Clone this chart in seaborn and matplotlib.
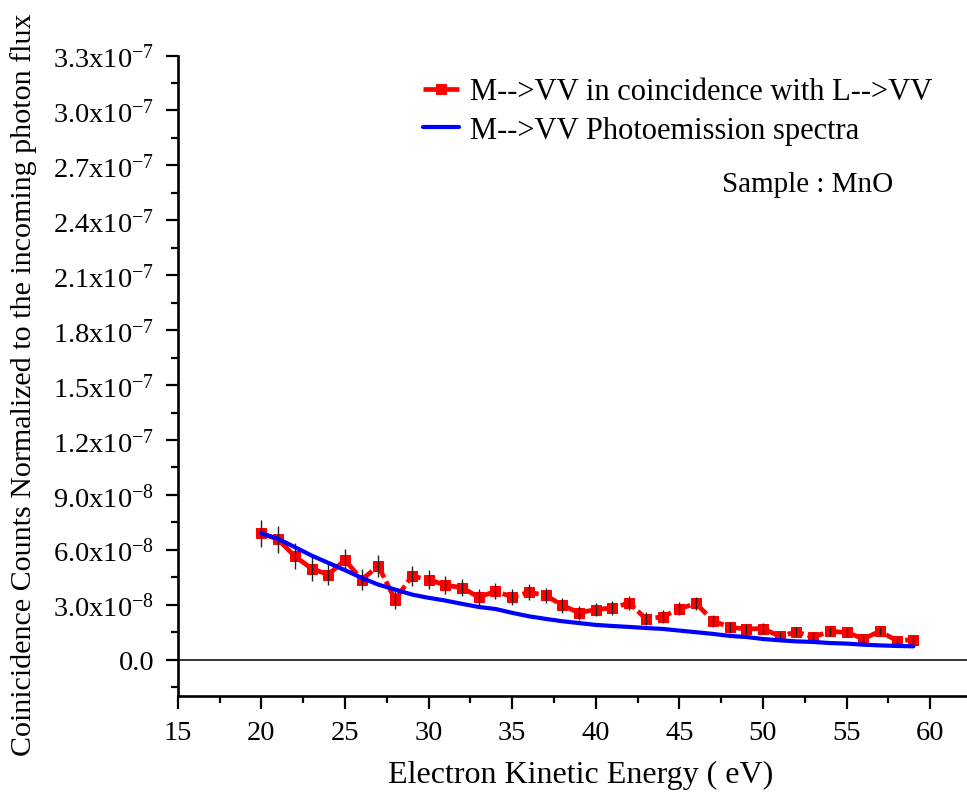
import numpy as np
import pandas as pd
import matplotlib
matplotlib.use("Agg")
import matplotlib.pyplot as plt
from matplotlib.ticker import MultipleLocator, FuncFormatter
import seaborn as sns

sns.set_style("ticks", {'axes.edgecolor': 'black', 'text.color': 'black',
                        'xtick.color': 'black', 'ytick.color': 'black',
                        'axes.labelcolor': 'black'})
plt.rcParams['font.family'] = ['Liberation Serif', 'DejaVu Serif']
plt.rcParams['mathtext.fontset'] = 'custom'
plt.rcParams['mathtext.rm'] = 'Liberation Serif'
plt.rcParams['mathtext.default'] = 'regular'

# Coincidence spectrum (M-->VV in coincidence with L-->VV), units of 1e-8
energy = np.arange(20, 60)
coinc = [6.90, 6.57, 5.65, 4.98, 4.65, 5.44, 4.38, 5.11, 3.28, 4.56,
         4.38, 4.07, 3.94, 3.41, 3.74, 3.43, 3.68, 3.52, 2.97, 2.56,
         2.74, 2.83, 3.10, 2.23, 2.34, 2.78, 3.07, 2.13, 1.77, 1.68,
         1.70, 1.28, 1.52, 1.24, 1.55, 1.49, 1.15, 1.55, 1.04, 1.09]
coinc_err = [0.75, 0.75, 0.70, 0.67, 0.57, 0.60, 0.55, 0.60, 0.53, 0.55,
             0.50, 0.48, 0.46, 0.45, 0.45, 0.43, 0.43, 0.42, 0.40, 0.38,
             0.38, 0.37, 0.37, 0.35, 0.35, 0.35, 0.35, 0.32, 0.30, 0.28,
             0.28, 0.25, 0.25, 0.25, 0.25, 0.25, 0.22, 0.22, 0.20, 0.20]
# Photoemission spectrum (M-->VV), units of 1e-8
photo = [6.90, 6.60, 6.15, 5.69, 5.29, 4.89, 4.47, 4.10, 3.83, 3.56,
         3.38, 3.23, 3.05, 2.88, 2.77, 2.56, 2.37, 2.23, 2.10, 2.00,
         1.90, 1.84, 1.79, 1.73, 1.68, 1.59, 1.50, 1.41, 1.30, 1.24,
         1.13, 1.06, 1.00, 0.97, 0.91, 0.88, 0.82, 0.78, 0.75, 0.73]

df = pd.DataFrame({'E': energy,
                   'coinc': np.array(coinc) * 1e-8,
                   'err': np.array(coinc_err) * 1e-8,
                   'photo': np.array(photo) * 1e-8})

fig = plt.figure(figsize=(9.67, 8.04), dpi=100)
ax = fig.add_axes([0.1838, 0.1327, 0.8162, 0.797])

ax.axhline(0, color='black', lw=1.1, zorder=1)
ax.errorbar(df['E'], df['coinc'], yerr=df['err'], fmt='none',
            ecolor='#222222', elinewidth=1.0, capsize=0, zorder=4)
sns.lineplot(data=df, x='E', y='coinc', ax=ax, color='red', lw=3.4,
             marker='s', markersize=7.5, markeredgecolor='red',
             label='M-->VV in coincidence with L-->VV', zorder=3)
ax.lines[-1].set_dashes((3.5, 0.9))
sns.lineplot(data=df, x='E', y='photo', ax=ax, color='blue', lw=3,
             label='M-->VV Photoemission spectra', zorder=5)

ax.set_xlim(15, 62.2)
ax.set_ylim(-2e-8, 3.3e-7)
ax.xaxis.set_major_locator(MultipleLocator(5))
ax.xaxis.set_minor_locator(MultipleLocator(2.5))
ax.yaxis.set_major_locator(MultipleLocator(3e-8))
ax.yaxis.set_minor_locator(MultipleLocator(1.5e-8))


def sci(v, pos):
    if abs(v) < 1e-12:
        return '0.0'
    e = int(np.floor(np.log10(abs(v)) + 1e-6))
    m = v / 10.0 ** e
    return '%.1fx10$^{%d}$' % (m, e)


ax.yaxis.set_major_formatter(FuncFormatter(sci))
ax.tick_params(which='major', direction='out', length=9, width=1.6, labelsize=20.5, pad=8)
ax.tick_params(which='minor', direction='out', length=5, width=1.6)
sns.despine(ax=ax)
for s in ['left', 'bottom']:
    ax.spines[s].set_linewidth(1.9)

ax.set_xlabel('Electron Kinetic Energy ( eV)', fontsize=23)
ax.set_ylabel('Coinicidence Counts Normalized to the incoming photon flux', fontsize=21.6)
ax.xaxis.set_label_coords(0.511, -0.1)
ax.yaxis.set_label_coords(-0.178, 0.4875)

leg = ax.legend(loc='upper left', bbox_to_anchor=(0.295, 0.985), frameon=False, fontsize=22,
                handlelength=1.2, handletextpad=0.35, labelspacing=0.32, borderaxespad=0)
leg.get_lines()[0].set_dashes((3.5, 0.9))
ax.text(0.69, 0.80, 'Sample : MnO', transform=ax.transAxes, fontsize=21, va='center')

fig.savefig('out.png', dpi=100)
